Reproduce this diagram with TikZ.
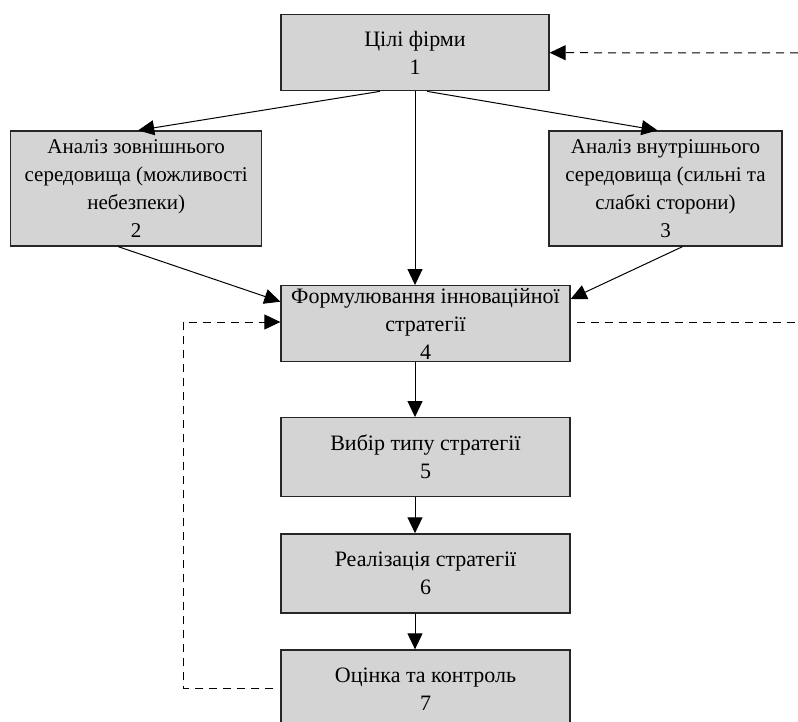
\documentclass[tikz,border=0pt]{standalone}
\usepackage{fontspec}
\setmainfont{Liberation Serif}
\usetikzlibrary{arrows.meta}
\definecolor{boxgray}{RGB}{212,212,212}
\tikzset{
  stagebox/.style={draw=black!85, line width=1.3pt, fill=boxgray, align=center,
    inner sep=0pt, font=\fontsize{22}{28}\selectfont},
  widebox/.style={stagebox, font=\fontsize{21}{28}\selectfont},
  flow/.style={line width=1pt, -{Triangle[length=16pt,width=15pt]}},
  feedback/.style={line width=1pt, dash pattern=on 8pt off 6pt},
  feedbackarrow/.style={feedback, -{Triangle[length=16pt,width=15pt]}}
}
\begin{document}
\begin{tikzpicture}[x=1pt,y=-1pt]
\useasboundingbox (0,0) rectangle (798,722);
\node[stagebox, minimum width=268pt, minimum height=76pt] (b1) at (415,52.7) {Цілі фірми\\1};
\node[widebox, minimum width=251pt, minimum height=115pt] (b2) at (136.2,188.5) {Аналіз зовнішнього\\середовища (можливості\\небезпеки)\\2};
\node[widebox, minimum width=233pt, minimum height=115pt] (b3) at (665.5,188.5) {Аналіз внутрішнього\\середовища (сильні та\\слабкі сторони)\\3};
\node[stagebox, minimum width=289pt, minimum height=76pt] (b4) at (425.5,323.7) {Формулювання інноваційної\\стратегії\\4};
\node[stagebox, minimum width=289pt, minimum height=79pt] (b5) at (425.5,457.2) {Вибір типу стратегії\\5};
\node[stagebox, minimum width=289pt, minimum height=79pt] (b6) at (425.5,573.4) {Реалізація стратегії\\6};
\node[stagebox, minimum width=289pt, minimum height=79pt] (b7) at (425.5,689.5) {Оцінка та контроль\\7};
% free ends
\coordinate (fbtop) at (798,53);
\coordinate (fbmid) at (798,322);
\coordinate (fbleft) at (183,688);
% solid connectors
\draw[flow] ([xshift=-35pt]b1.south) -- ([xshift=2pt]b2.north);
\draw[flow] ([xshift=12pt]b1.south) -- ([xshift=-8pt]b3.north);
\draw[flow] (b1.south) -- ([xshift=-10.5pt]b4.north);
\draw[flow] ([xshift=-18pt]b2.south) -- ([yshift=22pt]b4.west);
\draw[flow] ([xshift=17pt]b3.south) -- ([yshift=24.7pt]b4.east);
\draw[flow] ([xshift=-10.5pt]b4.south) -- ([xshift=-10.5pt]b5.north);
\draw[flow] ([xshift=-10.5pt]b5.south) -- ([xshift=-10.5pt]b6.north);
\draw[flow] ([xshift=-10.5pt]b6.south) -- ([xshift=-10.5pt]b7.north);
% dashed feedback
\draw[feedbackarrow] (fbtop) -- (b1.east);
\draw[feedback] ([xshift=6pt,yshift=1.7pt]b4.east) -- (fbmid);
\draw[feedbackarrow] ([xshift=-7pt,yshift=1.5pt]b7.west) -- (fbleft) |- ([yshift=1.7pt]b4.west);
\end{tikzpicture}
\end{document}
